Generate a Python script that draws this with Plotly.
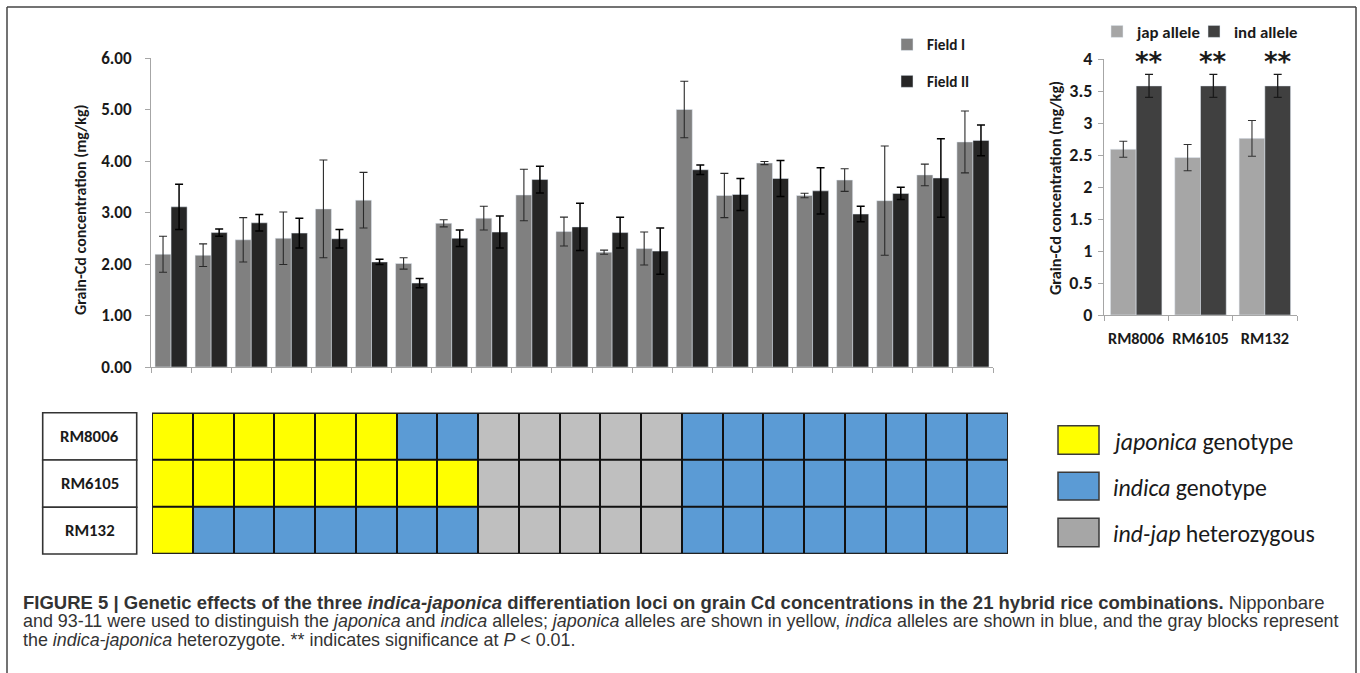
import plotly.graph_objects as go

W, H = 1360, 673


def fx(px):
    return px / W


def fy(py):
    return 1 - py / H


FONT = "Carlito, Lato, 'DejaVu Sans', sans-serif"
CAP_FONT = "'Liberation Sans', Arial, sans-serif"

# ---------------- data: main chart (21 hybrid combinations) ----------------
combos = list(range(21))
field1 = [2.19, 2.17, 2.47, 2.50, 3.07, 3.24, 2.01, 2.79, 2.89, 3.34, 2.63,
          2.23, 2.30, 5.00, 3.33, 3.96, 3.33, 3.63, 3.23, 3.73, 4.37]
field1_err = [0.35, 0.22, 0.43, 0.51, 0.95, 0.54, 0.11, 0.07, 0.23, 0.50, 0.28,
              0.04, 0.32, 0.55, 0.43, 0.03, 0.045, 0.22, 1.06, 0.21, 0.60]
field2 = [3.11, 2.61, 2.80, 2.60, 2.49, 2.04, 1.63, 2.50, 2.62, 3.64, 2.72,
          2.61, 2.25, 3.83, 3.35, 3.66, 3.42, 2.97, 3.37, 3.67, 4.40]
field2_err = [0.44, 0.07, 0.16, 0.29, 0.18, 0.05, 0.09, 0.16, 0.31, 0.26, 0.46,
              0.30, 0.45, 0.09, 0.31, 0.35, 0.45, 0.15, 0.12, 0.76, 0.30]
main_yticks = [0, 1, 2, 3, 4, 5, 6]

# ---------------- data: allele effect chart ----------------
loci = ["RM8006", "RM6105", "RM132"]
jap_mean = [2.59, 2.46, 2.76]
jap_err = [0.125, 0.205, 0.28]
ind_mean = [3.58, 3.58, 3.58]
ind_err = [0.18, 0.18, 0.18]
signif = ["**", "**", "**"]

# ---------------- data: genotype table ----------------
# J = japonica, I = indica, H = ind-jap heterozygous
genotypes = {
    "RM8006": "JJJJJJIIHHHHHIIIIIIII",
    "RM6105": "JJJJJJJJHHHHHIIIIIIII",
    "RM132":  "JIIIIIIIHHHHHIIIIIIII",
}
geno_code = {"J": 0, "I": 1, "H": 2}
geno_labels = ["<i>japonica</i> genotype", "<i>indica</i> genotype",
               "<i>ind-jap</i> heterozygous"]

C_F1, C_F2 = "#808080", "#262626"
C_JAP, C_IND = "#A6A6A6", "#404040"
C_YEL, C_BLUE, C_GRAY = "#FFFF00", "#5B9BD5", "#BFBFBF"
AXC = "#A6A6A6"

fig = go.Figure()

# main bars
fig.add_trace(go.Bar(
    x=combos, y=field1, name="Field I", marker_color=C_F1,
    error_y=dict(type="data", array=field1_err, color="#2a2a2a", thickness=1.1, width=4),
    xaxis="x", yaxis="y", legend="legend", legendgroup="f1"))
fig.add_trace(go.Bar(
    x=combos, y=field2, name="Field II", marker_color=C_F2,
    error_y=dict(type="data", array=field2_err, color="#000000", thickness=1.5, width=4),
    xaxis="x", yaxis="y", legend="legend", legendgroup="f2"))

# allele bars
fig.add_trace(go.Bar(
    x=loci, y=jap_mean, name="jap allele", marker_color=C_JAP,
    error_y=dict(type="data", array=jap_err, color="#333333", thickness=1.1, width=4),
    xaxis="x2", yaxis="y2", legend="legend2"))
fig.add_trace(go.Bar(
    x=loci, y=ind_mean, name="ind allele", marker_color=C_IND,
    error_y=dict(type="data", array=ind_err, color="#1a1a1a", thickness=1.3, width=4),
    xaxis="x2", yaxis="y2", legend="legend3"))

# genotype heatmap
rows = list(genotypes.keys())
z = [[geno_code[c] for c in genotypes[r]] for r in rows]
fig.add_trace(go.Heatmap(
    z=z, x=list(range(21)), y=list(range(len(rows))),
    zmin=-0.5, zmax=2.5,
    colorscale=[[0, C_YEL], [1 / 3, C_YEL], [1 / 3, C_BLUE], [2 / 3, C_BLUE],
                [2 / 3, C_GRAY], [1, C_GRAY]],
    showscale=False, xgap=2, ygap=2, hoverinfo="skip",
    xaxis="x3", yaxis="y3"))

shapes = []
annotations = []

# black background under heatmap so gaps read as grid lines
shapes.append(dict(type="rect", xref="x3", yref="y3", x0=-0.5, x1=20.5, y0=-0.5, y1=2.5,
                   fillcolor="#111111", line=dict(color="#111111", width=2), layer="below"))
shapes.append(dict(type="rect", xref="x3", yref="y3", x0=-0.5, x1=20.5, y0=-0.5, y1=2.5,
                   line=dict(color="#222222", width=2), layer="above"))

# label column of the table
row_edges = [412.7, 460.0, 507.3, 554.0]
for i, r in enumerate(rows):
    shapes.append(dict(type="rect", xref="paper", yref="paper",
                       x0=fx(42.7), x1=fx(136.7), y0=fy(row_edges[i + 1]), y1=fy(row_edges[i]),
                       line=dict(color="#333333", width=1.6), fillcolor="white"))
    annotations.append(dict(xref="paper", yref="paper", x=fx(89.7),
                            y=fy((row_edges[i] + row_edges[i + 1]) / 2),
                            xanchor="center", yanchor="middle",
                            text=f"<b>{r}</b>", showarrow=False,
                            font=dict(family=FONT, size=16.8, color="#1a1a1a")))

# genotype legend
leg_boxes = [(425.7, 454.3), (472.3, 500.0), (518.3, 546.7)]
leg_cols = [C_YEL, C_BLUE, C_JAP]
for (t, b), col, lab in zip(leg_boxes, leg_cols, geno_labels):
    shapes.append(dict(type="rect", xref="paper", yref="paper",
                       x0=fx(1058), x1=fx(1099), y0=fy(b), y1=fy(t),
                       fillcolor=col, line=dict(color="#3a3a3a", width=1.5)))
    annotations.append(dict(xref="paper", yref="paper", x=fx(1111), y=fy((t + b) / 2 + 1),
                            xanchor="left", yanchor="middle", text=lab, showarrow=False,
                            font=dict(family=FONT, size=23.8, color="#1a1a1a")))

# significance stars
for i, s in enumerate(signif):
    annotations.append(dict(xref="x2", yref="y2", x=i + 0.2, y=4.0, text=f"<b>{s}</b>",
                            showarrow=False, xanchor="center", yanchor="middle", yshift=-3,
                            font=dict(family="'DejaVu Sans', sans-serif", size=26,
                                      color="#1a1a1a")))

# y-axis titles
annotations.append(dict(xref="paper", yref="paper", x=fx(80), y=fy(210),
                        xanchor="center", yanchor="middle",
                        text="<b>Grain-Cd concentration (mg/kg)</b>", textangle=-90,
                        showarrow=False, font=dict(family=FONT, size=16, color="#1a1a1a")))
annotations.append(dict(xref="paper", yref="paper", x=fx(1055), y=fy(188),
                        xanchor="center", yanchor="middle",
                        text="<b>Grain-Cd concentration (mg/kg)</b>", textangle=-90,
                        showarrow=False, font=dict(family=FONT, size=16.3, color="#1a1a1a")))

# caption
cap_lines = [
    "<b>FIGURE 5 | Genetic effects of the three <i>indica-japonica</i> differentiation loci on grain Cd "
    "concentrations in the 21 hybrid rice combinations.</b> Nipponbare",
    "and 93-11 were used to distinguish the <i>japonica</i> and <i>indica</i> alleles; <i>japonica</i> "
    "alleles are shown in yellow, <i>indica</i> alleles are shown in blue, and the gray blocks represent",
    "the <i>indica-japonica</i> heterozygote. ** indicates significance at <i>P</i> &lt; 0.01.",
]
cap_y = [602, 621, 640]
cap_size = [18.5, 17.9, 17.9]
for txt, yy, sz in zip(cap_lines, cap_y, cap_size):
    annotations.append(dict(xref="paper", yref="paper", x=fx(21), y=fy(yy),
                            xanchor="left", yanchor="middle", text=txt, showarrow=False,
                            font=dict(family=CAP_FONT, size=sz, color="#333333")))

# outer frame
for x0, y0, x1, y1 in [(7, 7, 1356, 7), (7, 7, 7, 673), (1356, 7, 1356, 673)]:
    shapes.append(dict(type="line", xref="paper", yref="paper",
                       x0=fx(x0), y0=fy(y0), x1=fx(x1), y1=fy(y1),
                       line=dict(color="#444444", width=1.5)))

tickfont_main = dict(family=FONT, size=17, color="#1a1a1a", weight="bold")
leg_font = dict(family=FONT, size=16.8, color="#1a1a1a", weight="bold")

fig.update_layout(
    width=W, height=H, margin=dict(l=0, r=0, t=0, b=0, autoexpand=False),
    paper_bgcolor="white", plot_bgcolor="white",
    barmode="group", bargap=0.2, bargroupgap=0,
    shapes=shapes, annotations=annotations,
    xaxis=dict(domain=[fx(151), fx(993)], range=[-0.5, 20.5], showline=True, linecolor=AXC,
               ticks="outside", tickvals=[i - 0.5 for i in range(22)], ticklen=5,
               tickcolor=AXC, showticklabels=False, showgrid=False, zeroline=False,
               fixedrange=True),
    yaxis=dict(domain=[fy(367), fy(58)], range=[0, 6], tickvals=main_yticks,
               ticktext=[f"{v:.2f}" for v in main_yticks], ticks="outside", ticklen=5,
               tickcolor=AXC, showline=True, linecolor=AXC, showgrid=False, zeroline=False,
               tickfont=tickfont_main, ticklabelstandoff=10),
    xaxis2=dict(domain=[fx(1104), fx(1297)], type="category", tickson="boundaries",
                ticks="outside", ticklen=5, tickcolor=AXC, showline=True, linecolor=AXC,
                showgrid=False, tickangle=0,
                tickfont=dict(family=FONT, size=16.3, color="#1a1a1a", weight="bold"),
                anchor="y2", ticklabelstandoff=8),
    yaxis2=dict(domain=[fy(315), fy(59)], range=[0, 4], dtick=0.5, ticks="outside", ticklen=5,
                tickcolor=AXC, showline=True, linecolor=AXC, showgrid=False, zeroline=False,
                tickfont=dict(family=FONT, size=18, color="#1a1a1a", weight="bold"),
                anchor="x2", ticklabelstandoff=2),
    xaxis3=dict(domain=[fx(152), fx(1008)], range=[-0.5, 20.5], visible=False, anchor="y3"),
    yaxis3=dict(domain=[fy(554), fy(412.7)], range=[2.5, -0.5], visible=False, anchor="x3"),
    legend=dict(x=fx(887), y=fy(28), xanchor="left", yanchor="top", orientation="v",
                font=dict(family=FONT, size=15.3, color="#1a1a1a", weight="bold"),
                bgcolor="rgba(0,0,0,0)", itemwidth=30, tracegroupgap=14,
                traceorder="grouped"),
    legend2=dict(x=fx(1097), y=fy(14), xanchor="left", yanchor="top", orientation="h",
                 font=leg_font, bgcolor="rgba(0,0,0,0)", itemwidth=30),
    legend3=dict(x=fx(1194), y=fy(14), xanchor="left", yanchor="top", orientation="h",
                 font=leg_font, bgcolor="rgba(0,0,0,0)", itemwidth=30),
    showlegend=True,
)

post = (
    "document.documentElement.style.margin='0';"
    "document.documentElement.style.overflow='hidden';"
    "document.documentElement.style.height='673px';"
    "document.body.style.margin='0';document.body.style.padding='0';"
    "document.body.style.overflow='hidden';document.body.style.height='673px';"
    "var gd=document.getElementById('{plot_id}');"
    "gd.style.position='fixed';gd.style.left='0px';gd.style.top='0px';"
)

fig.write_html("out.html", config={"displayModeBar": False, "staticPlot": True},
               post_script=post)
